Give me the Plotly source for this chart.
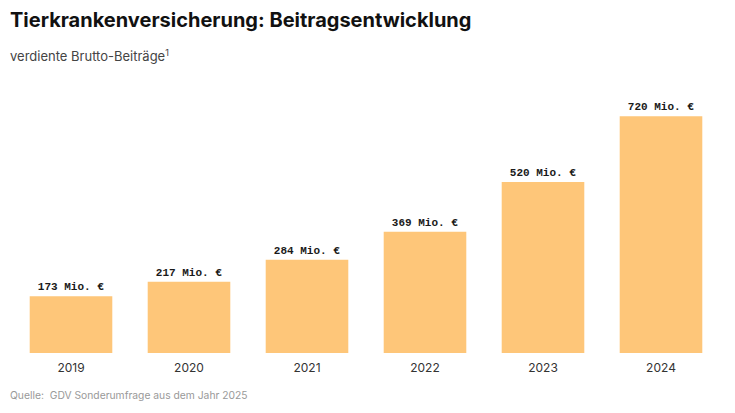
import plotly.graph_objects as go

years = ["2019", "2020", "2021", "2022", "2023", "2024"]
beitraege = [173, 217, 284, 369, 520, 720]
labels = [f"{v} Mio. €" for v in beitraege]

fig = go.Figure()
fig.add_trace(go.Bar(
    x=years,
    y=beitraege,
    text=labels,
    textposition="outside",
    cliponaxis=False,
    textfont=dict(family="Liberation Mono", size=11, color="#1a1a1a", weight="bold"),
    marker=dict(color="#FEC679", line=dict(width=0)),
    hoverinfo="skip",
))

fig.update_layout(
    width=735, height=413,
    margin=dict(l=4, r=23, t=82, b=68),
    paper_bgcolor="white", plot_bgcolor="white",
    bargap=0.30,
    showlegend=False,
    font=dict(family="Inter", color="#333333"),
    xaxis=dict(showgrid=False, showline=False, zeroline=False, ticks="",
               ticklabelstandoff=6,
               tickfont=dict(size=12, color="#333333")),
    yaxis=dict(visible=False, range=[0, 800]),
)

fig.add_annotation(text="<b>Tierkrankenversicherung: Beitragsentwicklung</b>",
                   xref="paper", yref="paper", x=-4 / 708, y=1, yshift=70,
                   xanchor="left", yanchor="middle", showarrow=False,
                   font=dict(size=20, color="#111111"))
fig.add_annotation(text="verdiente Brutto-Beiträge<sup>1</sup>",
                   xref="paper", yref="paper", x=-4 / 708, y=1, yshift=35,
                   xanchor="left", yanchor="middle", showarrow=False,
                   font=dict(size=13, color="#444444"))
fig.add_annotation(text="Quelle:  GDV Sonderumfrage aus dem Jahr 2025",
                   xref="paper", yref="paper", x=-4 / 708, y=0, yshift=-42,
                   xanchor="left", yanchor="middle", showarrow=False,
                   font=dict(size=10.3, color="#999999"))

fig.write_html("out.html")
